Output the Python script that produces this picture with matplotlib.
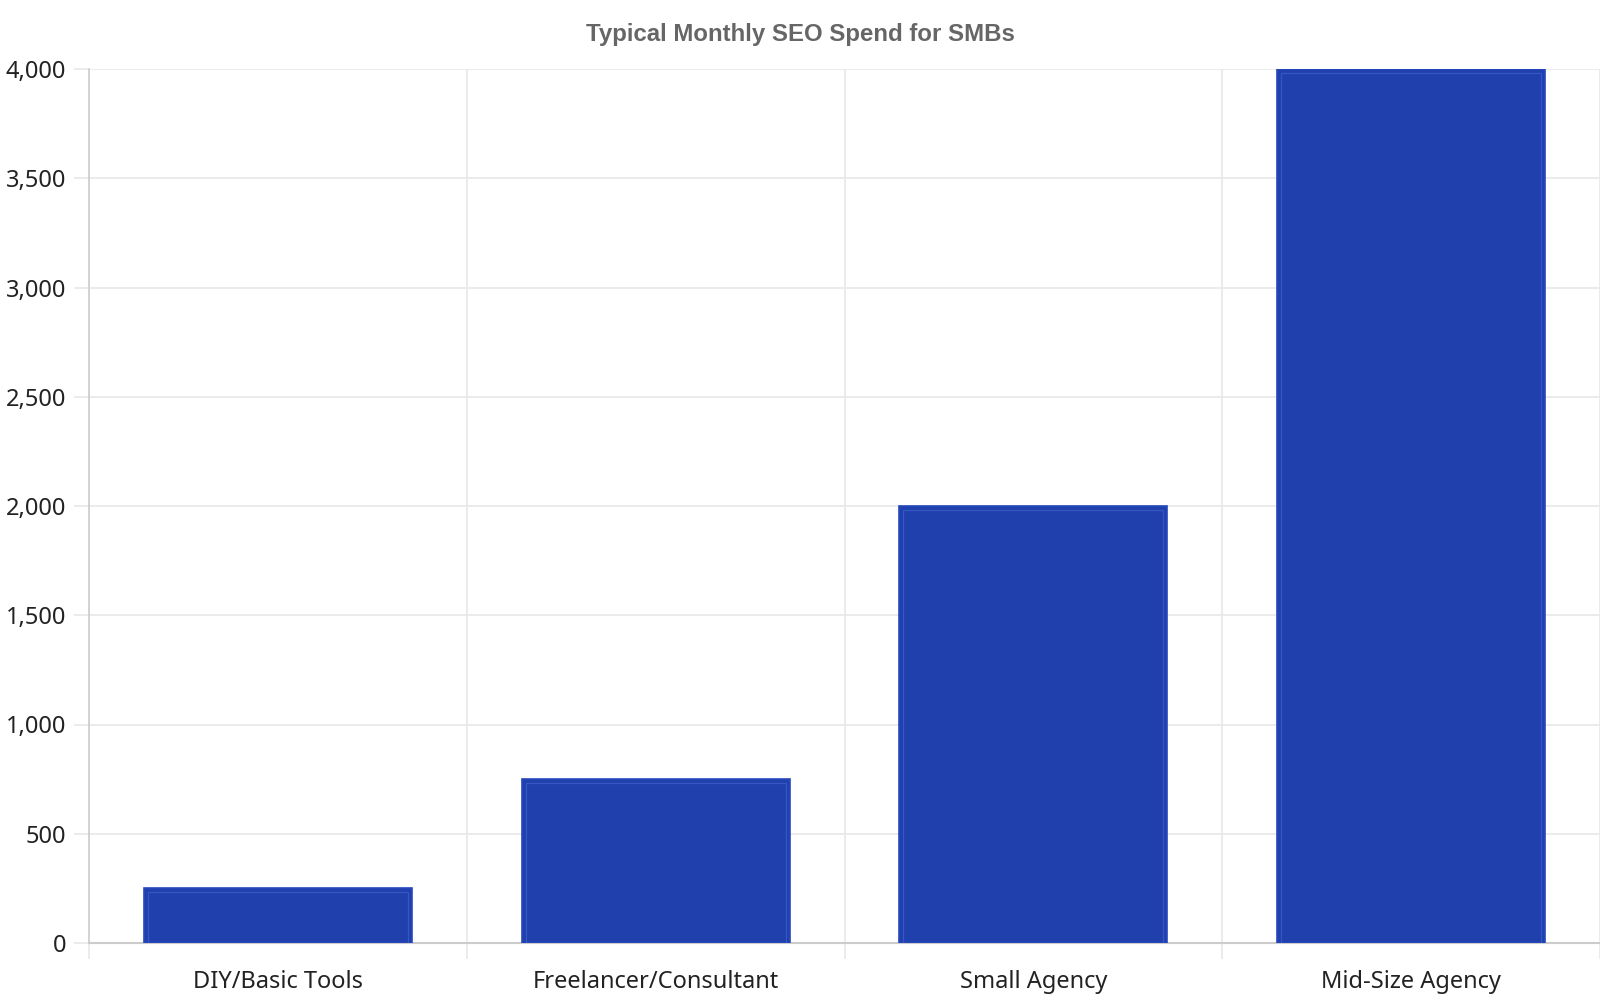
import matplotlib
matplotlib.use("Agg")
import matplotlib.pyplot as plt
from matplotlib.ticker import FuncFormatter, FixedLocator

categories = ["DIY/Basic Tools", "Freelancer/Consultant", "Small Agency", "Mid-Size Agency"]
spend = [250, 750, 2000, 4000]
y_ticks = [0, 500, 1000, 1500, 2000, 2500, 3000, 3500, 4000]

plt.rcParams['font.family'] = ['Noto Sans', 'DejaVu Sans']

fig = plt.figure(figsize=(16, 10), dpi=100)
left, right, top, bottom = 89, 1600, 69, 943
ax = fig.add_axes([left/1600, 1 - bottom/1000, (right-left)/1600, (bottom-top)/1000])

x = list(range(len(categories)))
bw = 0.71
ax.bar(x, spend, width=bw, color="#1f40ad", edgecolor="#2548bd", linewidth=1.2, zorder=3)

# thin lighter inner outline, inset a few pixels
ax.set_xlim(-0.5, len(categories) - 0.5)
ax.set_ylim(0, 4000)
px_x = len(categories) / (right - left)
px_y = 4000 / (bottom - top)
inset = 4
ax.bar(x, [v - inset * px_y for v in spend], width=bw - 2 * inset * px_x,
       fill=False, edgecolor="#3656c2", linewidth=0.9, zorder=4)

ax.set_yticks(y_ticks)
ax.yaxis.set_major_formatter(FuncFormatter(lambda v, p: f"{int(v):,}"))
ax.set_xticks(x)
ax.set_xticklabels(categories)
ax.xaxis.set_minor_locator(FixedLocator([-0.5, 0.5, 1.5, 2.5, 3.5]))

ax.grid(axis="y", color="#e8e8e8", linewidth=1.2, zorder=0)
ax.grid(axis="x", which="minor", color="#e8e8e8", linewidth=1.2, zorder=0)
ax.tick_params(axis="y", length=10.5, color="#e8e8e8", width=1.2, labelsize=17, labelcolor="#222222", pad=6)
ax.tick_params(axis="x", which="major", length=0, labelsize=17, labelcolor="#222222", pad=19.5)
ax.tick_params(axis="x", which="minor", length=11.7, color="#e8e8e8", width=1.2)

for s in ["top", "right"]:
    ax.spines[s].set_visible(False)
ax.spines["left"].set_color("#cccccc")
ax.spines["bottom"].set_color("#cccccc")
ax.spines["left"].set_linewidth(1.2)
ax.spines["bottom"].set_linewidth(1.5)

fig.text(0.5, 1 - 34/1000, "Typical Monthly SEO Spend for SMBs", ha="center", va="center",
         fontsize=17.3, fontweight="bold", color="#666666", family="Liberation Sans")

fig.savefig("out.png", dpi=100)
